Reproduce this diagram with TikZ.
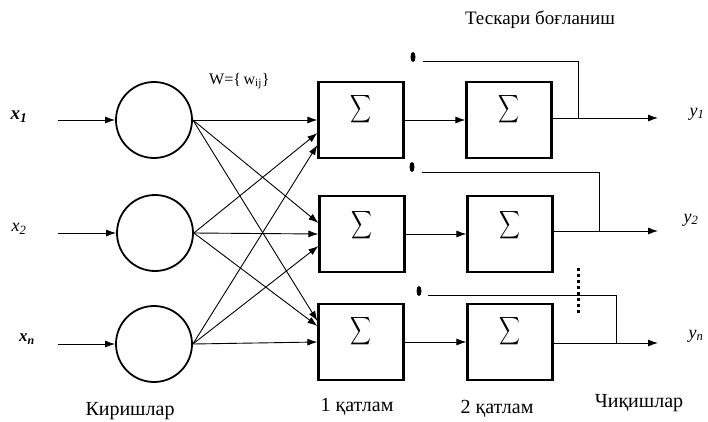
\documentclass[tikz,border=0pt]{standalone}
\usepackage{fontspec}
\usepackage{graphicx}
\setmainfont{Liberation Serif}
\usetikzlibrary{arrows.meta,shapes.geometric}
\begin{document}
\begin{tikzpicture}[x=1pt,y=-1pt,
  neuron/.style={draw,line width=1.8pt,circle,minimum size=76pt,inner sep=0pt},
  sumbox/.style={draw,line width=2.2pt,minimum width=85pt,minimum height=76pt,inner sep=0pt},
  sig/.style={inner sep=0pt},
  arr/.style={-{Latex[length=10pt,width=7pt]},line width=0.9pt},
  fb/.style={line width=0.9pt},
  dotn/.style={ellipse,fill=black,minimum width=5pt,minimum height=10pt,inner sep=0pt},
  iolbl/.style={font=\fontsize{18}{20}\selectfont\itshape,inner sep=0pt},
  txt/.style={font=\fontsize{20}{22}\selectfont,inner sep=0pt}]
\useasboundingbox (0,0) rectangle (708,422);
% input neurons
\node[neuron] (c1) at (154,120) {};
\node[neuron] (c2) at (155,233) {};
\node[neuron] (c3) at (154,344) {};
% layer 1
\node[sumbox] (a1) at (361,120) {};
\node[sumbox] (a2) at (362,234) {};
\node[sumbox] (a3) at (361,342) {};
% layer 2
\node[sumbox] (b1) at (509,120) {};
\node[sumbox] (b2) at (510,234) {};
\node[sumbox] (b3) at (510,342) {};
% sigma signs
\newcommand{\bigsig}{\scalebox{1.45}[1.95]{$\displaystyle\sum$}}
\node[sig] (sa1) at ([yshift=11pt]a1.center) {\bigsig};
\node[sig] (sa2) at ([yshift=9pt]a2.center) {\bigsig};
\node[sig] (sa3) at ([yshift=11pt]a3.center) {\bigsig};
\node[sig] (sb1) at ([yshift=11pt]b1.center) {\bigsig};
\node[sig] (sb2) at ([yshift=9pt]b2.center) {\bigsig};
\node[sig] (sb3) at ([yshift=11pt]b3.center) {\bigsig};
% inputs
\coordinate (i1) at (58,120);
\coordinate (i2) at (58,233);
\coordinate (i3) at (58,344);
\draw[arr] (i1) -- (c1.west);
\draw[arr] (i2) -- (c2.west);
\draw[arr] (i3) -- (c3.west);
\node[iolbl,font=\fontsize{19}{20}\selectfont\itshape\bfseries] (lx1) at (19,117) {x\textsubscript{1}};
\node[iolbl] (lx2) at (19,229) {x\textsubscript{2}};
\node[iolbl,font=\fontsize{17}{20}\selectfont\itshape\bfseries] (lx3) at (27,339) {x\textsubscript{n}};
% full connections
\draw[arr] (c1.east) -- (a1.west);
\draw[arr] (c1.east) -- ([yshift=11pt]a2.west);
\draw[arr] (c1.east) -- ([yshift=21pt]a3.west);
\draw[arr] (c2.east) -- ([yshift=-13pt]a1.west);
\draw[arr] (c2.east) -- (a2.west);
\draw[arr] (c2.east) -- ([yshift=16pt]a3.west);
\draw[arr] (c3.east) -- ([yshift=-25pt]a1.west);
\draw[arr] (c3.east) -- ([yshift=-12pt]a2.west);
\draw[arr] (c3.east) -- (a3.west);
\node[font=\fontsize{16}{18}\selectfont,inner sep=0pt,anchor=west] (W) at (209,81) {W=\{\,w\textsubscript{ij}\}};
% layer 1 to layer 2
\draw[arr] (a1.east) -- (b1.west);
\draw[arr] (a2.east) -- (b2.west);
\draw[arr] (a3.east) -- (b3.west);
% outputs
\coordinate (o1) at (658,118);
\coordinate (o2) at (658,231);
\coordinate (o3) at (658,343);
\draw[arr] (b1.east |- o1) -- (o1);
\draw[arr] (b2.east |- o2) -- (o2);
\draw[arr] (b3.east |- o3) -- (o3);
\node[iolbl] (ly1) at (697,114) {y\textsubscript{1}};
\node[iolbl] (ly2) at (691,220) {y\textsubscript{2}};
\node[iolbl] (ly3) at (696,336) {y\textsubscript{n}};
% feedback
\coordinate (f1) at (578,118);
\coordinate (f2) at (599,231);
\coordinate (f3) at (616,343);
\coordinate (t1) at (423,61);
\coordinate (t2) at (422,172);
\coordinate (t3) at (428,295);
\node[dotn] (d1) at (413,57) {};
\node[dotn] (d2) at (412,167) {};
\node[dotn] (d3) at (419,291) {};
\draw[fb] (f1) |- (t1);
\draw[fb] (f2) |- (t2);
\draw[fb] (f3) |- (t3);
\coordinate (v1) at (578,268);
\coordinate (v2) at (578,314);
\draw[line width=3pt,dash pattern=on 3pt off 3pt] (v1) -- (v2);
% texts
\node[font=\fontsize{19}{21}\selectfont,inner sep=0pt] (title) at (540,20) {Тескари боғланиш};
\node[txt] (kir) at (130,411) {Киришлар};
\node[txt] (k1) at (357,407) {1 қатлам};
\node[txt] (k2) at (497,409) {2 қатлам};
\node[txt] (chq) at (639,403) {Чиқишлар};
\end{tikzpicture}
\end{document}
